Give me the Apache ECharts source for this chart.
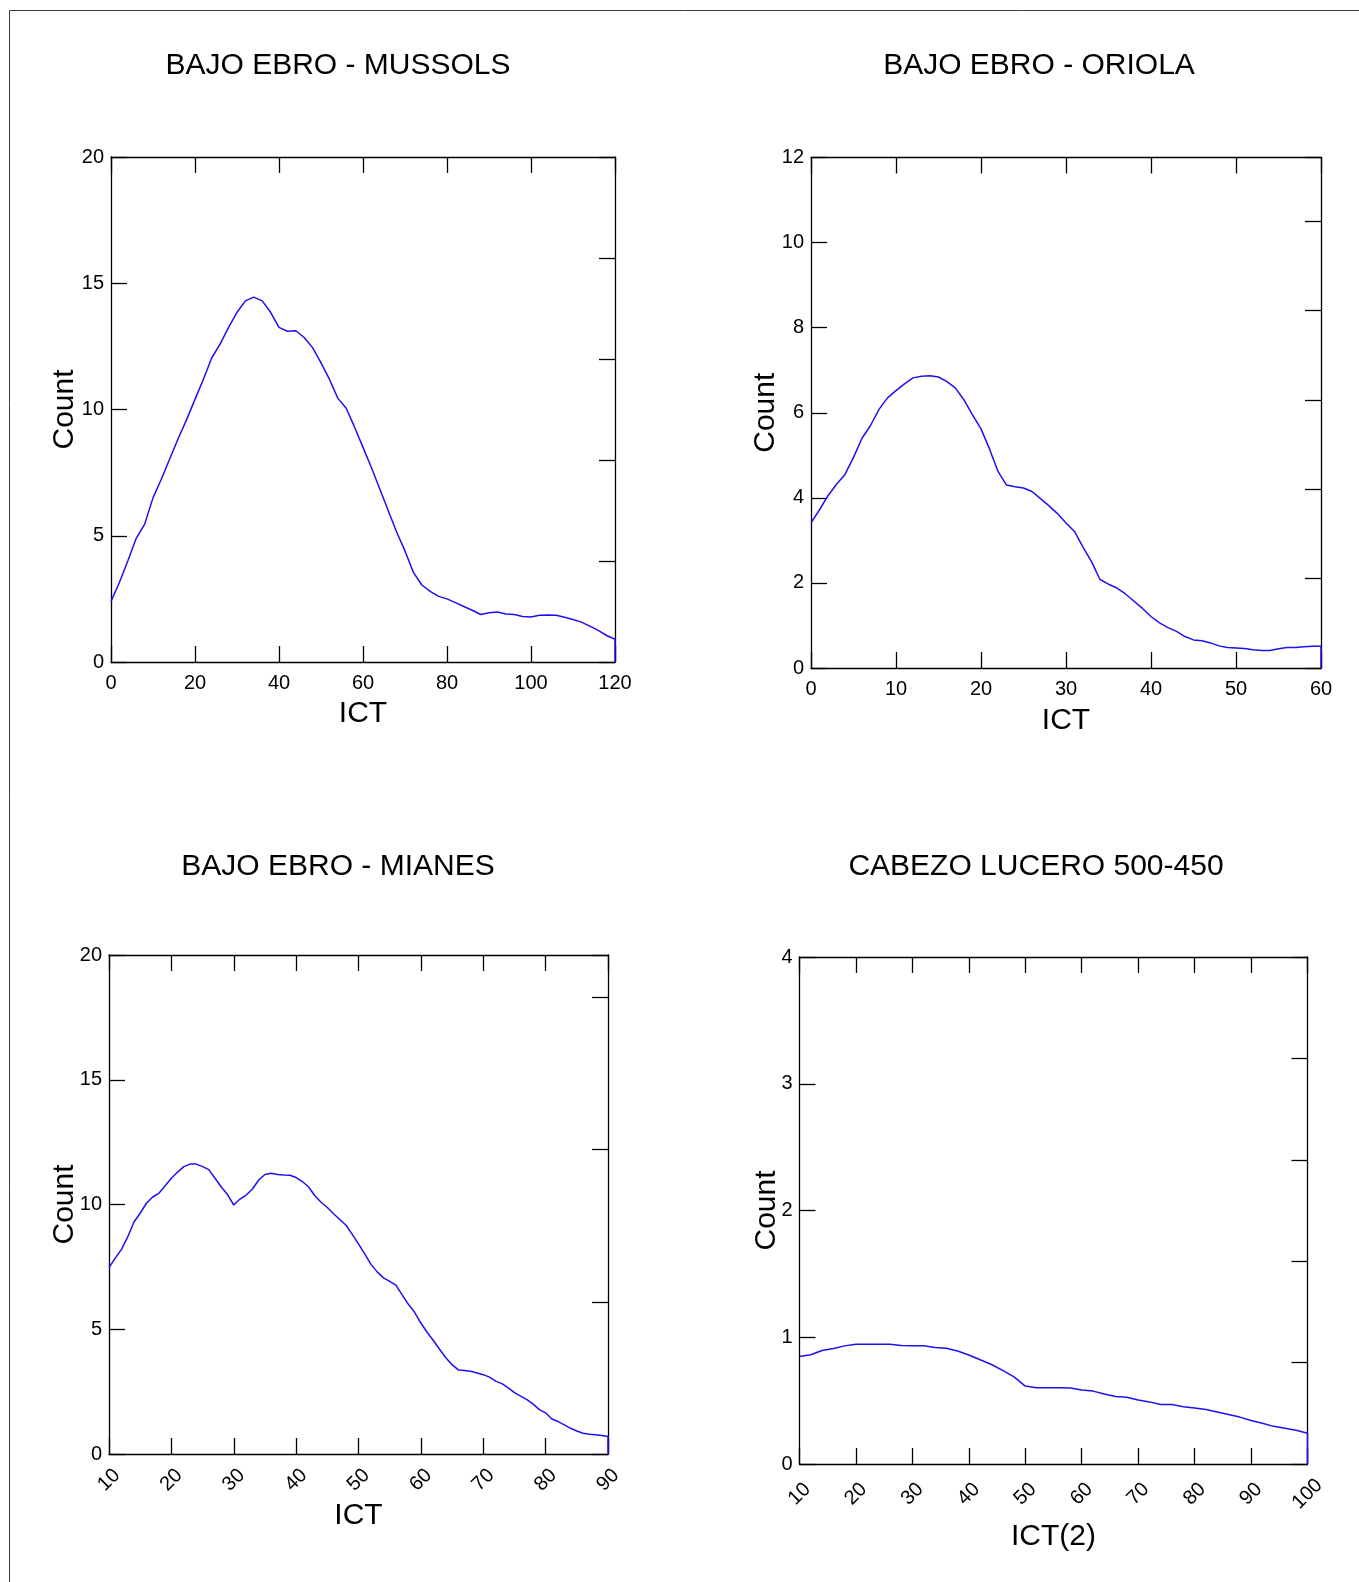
<!DOCTYPE html>
<html>
<head>
<meta charset="utf-8">
<script src="https://cdn.jsdelivr.net/npm/echarts@6/dist/echarts.min.js"></script>
<style>
  html, body { margin: 0; padding: 0; background: #fff; }
  #chart { width: 1359px; height: 1582px; }
</style>
</head>
<body>
<div id="chart"></div>
<script>
// panel titles and axis names
var titles = ['BAJO EBRO - MUSSOLS', 'BAJO EBRO - ORIOLA', 'BAJO EBRO - MIANES', 'CABEZO LUCERO 500-450'];
var xNames = ['ICT', 'ICT', 'ICT', 'ICT(2)'];

// BAJO EBRO - MUSSOLS
var mussolsX = [0, 2, 4, 6, 8, 10, 12, 14, 16, 18, 20, 22, 24, 26, 28, 30, 32, 34, 36, 38, 40,
  42, 44, 46, 48, 50, 52, 54, 56, 58, 60, 62, 64, 66, 68, 70, 72, 74, 76, 78, 80,
  82, 84, 86, 88, 90, 92, 94, 96, 98, 100, 102, 104, 106, 108, 110, 112, 114, 116, 118, 120, 120];
var mussolsY = [2.4, 3.15, 4.0, 4.9, 5.45, 6.5, 7.25, 8.05, 8.85, 9.6, 10.4, 11.2, 12.05, 12.6, 13.25, 13.85, 14.3, 14.45, 14.3, 13.85, 13.25,
  13.1, 13.12, 12.85, 12.45, 11.85, 11.2, 10.45, 10.05, 9.3, 8.5, 7.7, 6.85, 6.0, 5.15, 4.4, 3.55, 3.05, 2.8, 2.6, 2.5,
  2.35, 2.2, 2.05, 1.88, 1.95, 1.98, 1.9, 1.88, 1.8, 1.78, 1.85, 1.86, 1.85, 1.77, 1.68, 1.58, 1.42, 1.25, 1.05, 0.9, 0];

// BAJO EBRO - ORIOLA
var oriolaX = [0, 1, 2, 3, 4, 5, 6, 7, 8, 9, 10, 11, 12, 13, 14, 15, 16, 17, 18, 19, 20,
  21, 22, 23, 24, 25, 26, 27, 28, 29, 30, 31, 32, 33, 34, 35, 36, 37, 38, 39, 40,
  41, 42, 43, 44, 45, 46, 47, 48, 49, 50, 51, 52, 53, 54, 55, 56, 57, 58, 59, 60, 60];
var oriolaY = [3.41, 3.72, 4.05, 4.32, 4.55, 4.95, 5.4, 5.7, 6.08, 6.35, 6.52, 6.68, 6.82, 6.86, 6.87, 6.84, 6.73, 6.58, 6.3, 5.95, 5.62,
  5.15, 4.62, 4.3, 4.26, 4.23, 4.15, 3.98, 3.81, 3.63, 3.41, 3.21, 2.84, 2.5, 2.08, 1.97, 1.88, 1.74, 1.57, 1.4, 1.21,
  1.06, 0.95, 0.86, 0.74, 0.66, 0.64, 0.59, 0.52, 0.48, 0.47, 0.46, 0.43, 0.41, 0.41, 0.45, 0.48, 0.48, 0.5, 0.51, 0.51, 0];

// BAJO EBRO - MIANES
var mianesX = [10, 11, 12, 13, 14, 15, 16, 17, 18, 19, 20, 21, 22, 23, 24, 25, 26, 27, 28, 29, 30,
  31, 32, 33, 34, 35, 36, 37, 38, 39, 40, 41, 42, 43, 44, 45, 46, 47, 48, 49, 50,
  51, 52, 53, 54, 55, 56, 57, 58, 59, 60, 61, 62, 63, 64, 65, 66, 67, 68, 69, 70,
  71, 72, 73, 74, 75, 76, 77, 78, 79, 80, 81, 82, 83, 84, 85, 86, 87, 88, 89, 90, 90];
var mianesY = [7.47, 7.85, 8.2, 8.7, 9.3, 9.65, 10.05, 10.3, 10.45, 10.75, 11.05, 11.3, 11.52, 11.62, 11.62, 11.52, 11.4, 11.05, 10.7, 10.4, 9.98,
  10.22, 10.38, 10.62, 10.98, 11.2, 11.25, 11.2, 11.18, 11.17, 11.08, 10.92, 10.7, 10.35, 10.09, 9.88, 9.63, 9.4, 9.17, 8.8, 8.42,
  8.02, 7.6, 7.3, 7.06, 6.92, 6.77, 6.38, 6.0, 5.68, 5.25, 4.88, 4.55, 4.2, 3.86, 3.58, 3.37, 3.35, 3.32, 3.25, 3.18,
  3.08, 2.92, 2.82, 2.65, 2.46, 2.32, 2.18, 2.0, 1.78, 1.65, 1.4, 1.3, 1.17, 1.03, 0.92, 0.83, 0.79, 0.77, 0.74, 0.7, 0];

// CABEZO LUCERO 500-450
var luceroX = [10, 12, 14, 16, 18, 20, 22, 24, 26, 28, 30, 32, 34, 36, 38, 40, 42, 44, 46, 48, 50,
  52, 54, 56, 58, 60, 62, 64, 66, 68, 70, 72, 74, 76, 78, 80, 82, 84, 86, 88, 90,
  92, 94, 96, 98, 100, 100];
var luceroY = [0.848, 0.862, 0.895, 0.912, 0.932, 0.945, 0.945, 0.945, 0.945, 0.935, 0.933, 0.933, 0.92, 0.913, 0.892, 0.86, 0.822, 0.785, 0.738, 0.688, 0.615,
  0.602, 0.602, 0.602, 0.6, 0.583, 0.575, 0.553, 0.532, 0.526, 0.505, 0.49, 0.469, 0.469, 0.452, 0.442, 0.43, 0.41, 0.39, 0.37, 0.343,
  0.322, 0.297, 0.282, 0.267, 0.242, 0];

// axis ranges: [xMin, xMax, xStep, yMax, yStep, rightStep]
var ranges = [
  [0, 120, 20, 20, 5, 4],
  [0, 60, 10, 12, 2, 2.1],
  [10, 90, 10, 20, 5, 6.1],
  [10, 100, 10, 4, 1, 0.8]
];
var seriesX = [mussolsX, oriolaX, mianesX, luceroX];
var seriesY = [mussolsY, oriolaY, mianesY, luceroY];

var font = "'Liberation Sans', Arial, Helvetica, sans-serif";

var grids = [
  { left: 111, top: 157, width: 504, height: 505 },
  { left: 811, top: 157.5, width: 510, height: 510.5 },
  { left: 109, top: 955, width: 499, height: 499 },
  { left: 799.5, top: 957, width: 508, height: 507 }
];
var titlePos = [[338, 66], [1039, 66], [338, 867], [1036, 867]];
var xNameGap = [37, 38, 47, 58];
var yNameGap = [31, 30, 29, 18];
var xLabelMargin = [11, 11, 26, 30];

var chart = echarts.init(document.getElementById('chart'));

var axisLine = { show: true, onZero: false, lineStyle: { color: '#000', width: 1.3 } };
var tick = { show: true, inside: true, length: 16, lineStyle: { color: '#000', width: 1.3 } };

var xAxes = [], yAxes = [], series = [], graphics = [];

grids.forEach(function (g, i) {
  g.outerBoundsMode = 'none';
  var r = ranges[i];
  var rotated = i >= 2;
  xAxes.push({
    type: 'value', gridIndex: i, position: 'bottom',
    min: r[0], max: r[1], interval: r[2],
    name: xNames[i], nameLocation: 'middle', nameGap: xNameGap[i], nameMoveOverlap: false,
    nameTextStyle: { fontFamily: font, fontSize: 30, color: '#000' },
    axisLine: axisLine, axisTick: tick, splitLine: { show: false },
    axisLabel: rotated ? {
      rotate: 45, align: 'center', verticalAlign: 'middle', margin: xLabelMargin[i],
      fontFamily: font, fontSize: 20, color: '#000'
    } : {
      margin: xLabelMargin[i], fontFamily: font, fontSize: 20, color: '#000'
    }
  });
  xAxes.push({
    type: 'value', gridIndex: i, position: 'top',
    min: r[0], max: r[1], interval: r[2],
    axisLine: axisLine, axisTick: tick, splitLine: { show: false },
    axisLabel: { show: false }
  });
  yAxes.push({
    type: 'value', gridIndex: i, position: 'left',
    min: 0, max: r[3], interval: r[4],
    name: 'Count', nameLocation: 'middle', nameGap: yNameGap[i], nameMoveOverlap: false,
    nameTextStyle: { fontFamily: font, fontSize: 30, color: '#000' },
    axisLine: axisLine, axisTick: tick, splitLine: { show: false },
    axisLabel: { margin: 7, fontFamily: font, fontSize: 20, color: '#000' }
  });
  yAxes.push({
    type: 'value', gridIndex: i, position: 'right',
    min: 0, max: r[3], interval: r[5],
    axisLine: axisLine, axisTick: tick, splitLine: { show: false },
    axisLabel: { show: false }
  });
  var pts = seriesX[i].map(function (x, k) { return [x, seriesY[i][k]]; });
  series.push({
    type: 'line', xAxisIndex: i * 2, yAxisIndex: i * 2,
    data: pts, showSymbol: false, symbol: 'none', silent: true,
    lineStyle: { color: '#1f10f2', width: 1.5 }
  });
  graphics.push({
    type: 'text', x: titlePos[i][0], y: titlePos[i][1],
    style: {
      text: titles[i], font: '30px ' + font, fill: '#000',
      textAlign: 'center', textVerticalAlign: 'middle'
    }
  });
});

// outer frame of the figure
graphics.push({
  type: 'rect', shape: { x: 9.5, y: 10.5, width: 1400, height: 1620 },
  style: { fill: 'none', stroke: '#3c3c3c', lineWidth: 1 }
});

chart.setOption({
  animation: false,
  backgroundColor: '#fff',
  grid: grids,
  xAxis: xAxes,
  yAxis: yAxes,
  series: series,
  graphic: graphics
});
</script>
</body>
</html>
